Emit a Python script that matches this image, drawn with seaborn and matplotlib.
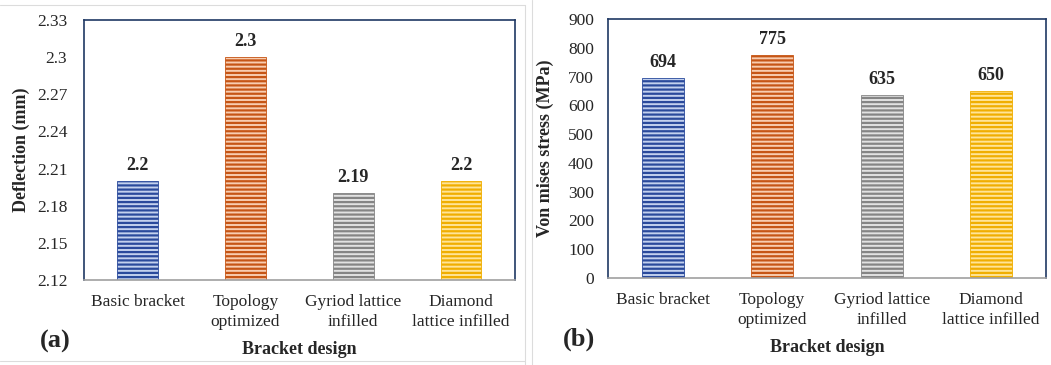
import numpy as np
import pandas as pd
import seaborn as sns
import matplotlib.pyplot as plt
from matplotlib.lines import Line2D

designs = ['Basic bracket', 'Topology\noptimized', 'Gyriod lattice\ninfilled', 'Diamond\nlattice infilled']
deflection = [2.2, 2.3, 2.19, 2.2]
deflection_lbl = ['2.2', '2.3', '2.19', '2.2']
stress = [694, 775, 635, 650]
stress_lbl = ['694', '775', '635', '650']

defl_ticks = [2.12, 2.15, 2.18, 2.21, 2.24, 2.27, 2.3, 2.33]
defl_ticklbl = ['2.12', '2.15', '2.18', '2.21', '2.24', '2.27', '2.3', '2.33']
stress_ticks = list(range(0, 901, 100))

light = ['#C3D1EE', '#F8CDB0', '#E2E2E2', '#FFE497']
dark = ['#2A4A9C', '#C65515', '#858585', '#F0AE00']

sns.set_style('white')
plt.rcParams['font.family'] = ['Liberation Serif', 'DejaVu Serif']
plt.rcParams['hatch.linewidth'] = 1.6
serif = ['Liberation Serif', 'DejaVu Serif']

fig = plt.figure(figsize=(10.51, 3.65), dpi=100)
ax1 = fig.add_axes([0.0799, 0.2329, 0.410, 0.712])
ax2 = fig.add_axes([0.5785, 0.2384, 0.4167, 0.7096])

df1 = pd.DataFrame({'design': designs, 'value': deflection})
df2 = pd.DataFrame({'design': designs, 'value': stress})


def draw(ax, df, labels, ylabel, ticks, ticklbl, ylim, pad, ylpad, tag):
    sns.barplot(data=df, x='design', y='value', hue='design', palette=light,
                legend=False, width=0.38, ax=ax, saturation=1)
    for p, c in zip(ax.patches, dark):
        p.set_hatch('----')
        p.set_edgecolor(c)
        p.set_linewidth(0.6)
    for cont, lb in zip(ax.containers, labels):
        ax.bar_label(cont, labels=[lb], padding=5, fontsize=13, fontweight='bold')
    ax.set_ylim(*ylim)
    ax.set_xlim(-0.5, 3.5)
    ax.set_yticks(ticks)
    ax.set_yticklabels(ticklbl, family=serif)
    ax.set_xticks(range(len(designs)))
    ax.set_xticklabels(designs, family=serif, linespacing=1.35)
    ax.tick_params(axis='y', direction='in', length=4, width=1, color='#1F3864',
                   labelsize=12.5, pad=pad)
    ax.tick_params(axis='x', length=0, labelsize=12.5, pad=10)
    ax.set_ylabel(ylabel, fontsize=13, fontweight='bold', labelpad=ylpad)
    ax.set_xlabel('Bracket design', fontsize=13, fontweight='bold', labelpad=8)
    for s in ['left', 'top', 'right']:
        ax.spines[s].set_color('#1F3864')
        ax.spines[s].set_linewidth(1.2)
    ax.spines['bottom'].set_color('#A0A0A0')
    ax.spines['bottom'].set_linewidth(1.2)
    ax.text(-0.066, -0.235, tag, transform=ax.transAxes, fontsize=19,
            fontweight='bold', ha='center', va='center')


draw(ax1, df1, deflection_lbl, 'Deflection (mm)', defl_ticks, defl_ticklbl,
     (2.12, 2.33), 12, 5, '(a)')
draw(ax2, df2, stress_lbl, 'Von mises stress (MPa)', stress_ticks,
     [str(t) for t in stress_ticks], (0, 900), 10, 10, '(b)')

# faint page borders around the panels
for xs, ys in [([0, 525 / 1051], [1 - 5 / 365] * 2),
               ([0, 525 / 1051], [1 - 361 / 365] * 2),
               ([525 / 1051] * 2, [0, 1 - 5 / 365]),
               ([532 / 1051] * 2, [0, 1])]:
    fig.add_artist(Line2D(xs, ys, transform=fig.transFigure, color='#DCDCDC', lw=0.8))

fig.savefig('out.png', dpi=100)
